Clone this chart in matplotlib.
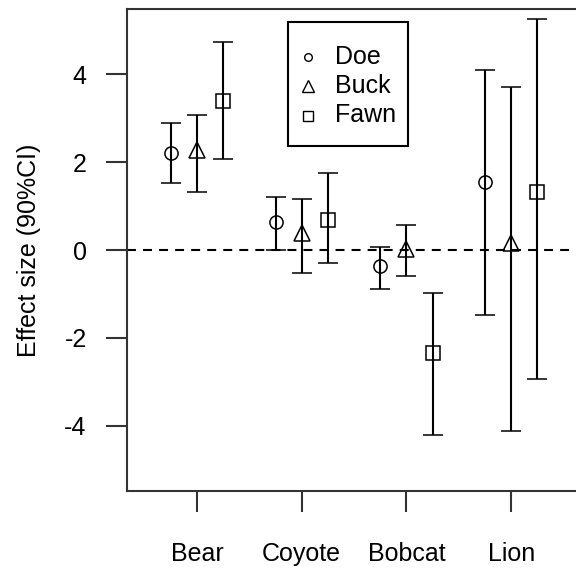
import numpy as np
import matplotlib.pyplot as plt
from matplotlib.patches import Rectangle

# Effect sizes with 90% CI
species = ['Bear', 'Coyote', 'Bobcat', 'Lion']
groups = ['Doe', 'Buck', 'Fawn']

doe_est = [2.20, 0.63, -0.37, 1.54]
doe_lo = [1.53, 0.00, -0.88, -1.47]
doe_hi = [2.89, 1.21, 0.06, 4.09]

buck_est = [2.27, 0.39, 0.03, 0.16]
buck_lo = [1.31, -0.52, -0.60, -4.11]
buck_hi = [3.08, 1.16, 0.57, 3.71]

fawn_est = [3.38, 0.69, -2.35, 1.32]
fawn_lo = [2.07, -0.29, -4.20, -2.93]
fawn_hi = [4.72, 1.75, -0.98, 5.26]

yticks = [-4, -2, 0, 2, 4]

plt.rcParams['font.family'] = ['Liberation Sans', 'DejaVu Sans']
fs = 18
lw = 1.5
W, H = 576, 569

fig = plt.figure(figsize=(W / 100, H / 100), dpi=100)
ax = fig.add_axes([127 / W, 1 - 491 / H, 1 - 127 / W, (491 - 9) / H])

x = np.arange(1, len(species) + 1)
series = [
    (doe_est, doe_lo, doe_hi, 'o', 9.5, -0.25),
    (buck_est, buck_lo, buck_hi, '^', 11, 0.0),
    (fawn_est, fawn_lo, fawn_hi, 's', 10, 0.25),
]
for est, lo, hi, mk, ms, off in series:
    est = np.array(est)
    err = np.vstack([est - np.array(lo), np.array(hi) - est])
    ax.errorbar(x + off, est, yerr=err, fmt=mk, ms=ms, mfc='none', mec='black',
                mew=1.1, ecolor='black', elinewidth=lw, capsize=7.2, capthick=lw,
                color='black', zorder=3)

ax.axhline(0, color='black', lw=lw, dashes=(4.3, 3.4), zorder=2)

ax.set_xlim(0.331, 0.331 + (W - 127) / 104.7)
ax.set_ylim(-5.48, 5.48)
ax.set_xticks(x)
ax.set_xticklabels(species, fontsize=fs)
ax.set_yticks(yticks)
ax.set_yticklabels([str(v) for v in yticks], fontsize=fs)
ax.tick_params(axis='both', direction='out', length=15, width=lw, color='#333333')
ax.tick_params(axis='x', pad=22)
ax.tick_params(axis='y', pad=14)
ax.set_ylabel('Effect size (90%CI)', fontsize=fs, labelpad=17)

for side in ['left', 'bottom', 'top']:
    ax.spines[side].set_linewidth(lw)
    ax.spines[side].set_color('#333333')
ax.spines['right'].set_visible(False)

# legend box drawn by hand, positions in image pixels
def px(xp, yp):
    return xp / W, 1 - yp / H

bx0, by0 = px(288, 146)
bx1, by1 = px(408, 22)
fig.patches.append(Rectangle((bx0, by0), bx1 - bx0, by1 - by0, transform=fig.transFigure,
                             fill=True, facecolor='white', edgecolor='black', lw=lw,
                             zorder=5))
leg_markers = [('o', 5.5), ('^', 8), ('s', 6.5)]
for i, (label, (mk, ms)) in enumerate(zip(groups, leg_markers)):
    yrow = 56.5 + 29.5 * i
    mx, my = px(308, yrow)
    fig.add_artist(plt.Line2D([mx], [my], ls='none', marker=mk, ms=ms, mfc='none',
                              mec='black', mew=1.0, transform=fig.transFigure, zorder=6))
    tx, ty = px(335, yrow)
    fig.text(tx, ty, label, fontsize=fs, ha='left', va='center', zorder=6)

fig.savefig('out.png', dpi=100)
